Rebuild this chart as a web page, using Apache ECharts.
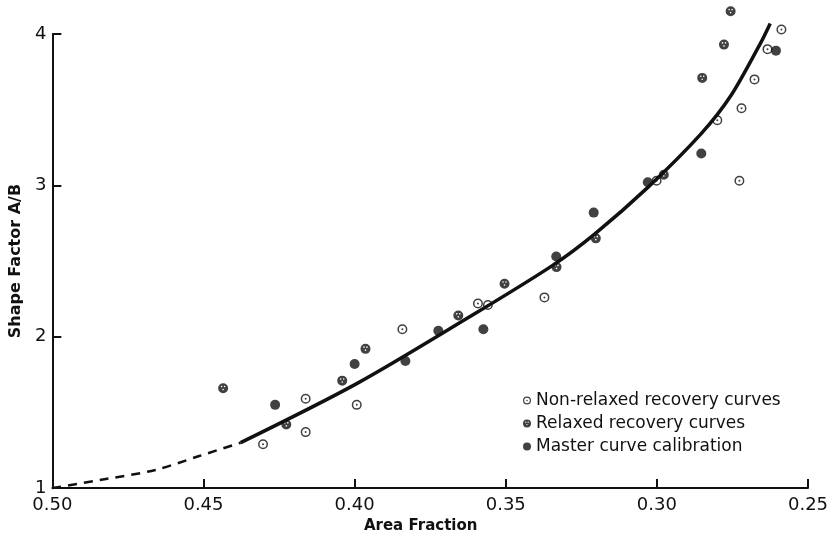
<!DOCTYPE html>
<html>
<head>
<meta charset="utf-8">
<script src="https://cdn.jsdelivr.net/npm/echarts@6/dist/echarts.min.js"></script>
<style>
  html, body { margin: 0; padding: 0; background: #fff; }
  #chart { width: 837px; height: 539px; }
</style>
</head>
<body>
<div id="chart"></div>
<script>
  // data: [area fraction, shape factor A/B]
  const nonRelaxed = [
    [0.4303, 1.29], [0.4162, 1.59], [0.4162, 1.37], [0.3993, 1.55],
    [0.3842, 2.05], [0.3592, 2.22], [0.3559, 2.21], [0.3372, 2.26],
    [0.3001, 3.03], [0.2800, 3.43], [0.2720, 3.51], [0.2677, 3.70],
    [0.2634, 3.90], [0.2588, 4.03], [0.2727, 3.03]
  ];
  const relaxed = [
    [0.4435, 1.66], [0.4226, 1.42], [0.4041, 1.71], [0.3964, 1.92],
    [0.3657, 2.14], [0.3504, 2.35], [0.3332, 2.46], [0.3202, 2.65],
    [0.2977, 3.07], [0.2850, 3.71], [0.2778, 3.93], [0.2756, 4.15]
  ];
  const master = [
    [0.4263, 1.55], [0.4000, 1.82], [0.3832, 1.84], [0.3723, 2.04],
    [0.3574, 2.05], [0.3333, 2.53], [0.3209, 2.82], [0.3030, 3.02],
    [0.2853, 3.21], [0.2606, 3.89]
  ];
  // fitted master curve, dashed extrapolation then solid part
  const curveDashed = [
    [0.500, 1.00], [0.4823, 1.06], [0.4659, 1.12], [0.4517, 1.21], [0.4377, 1.30]
  ];
  const curveSolid = [
    [0.4377, 1.30], [0.3993, 1.69], [0.3625, 2.125], [0.3346, 2.47],
    [0.3205, 2.68], [0.3028, 2.99], [0.2854, 3.34], [0.2756, 3.59],
    [0.2657, 3.94], [0.2625, 4.07]
  ];
  const xTicks = [0.25, 0.30, 0.35, 0.40, 0.45, 0.50];
  const yTicks = [1, 2, 3, 4];

  // ring with centre dot / dark disc with white specks
  const ringDot = 'path://M10,0A10,10 0 1,1 10,20A10,10 0 1,1 10,0Z' +
    'M10,3A7,7 0 1,0 10,17A7,7 0 1,0 10,3Z' +
    'M10,8A2,2 0 1,1 10,12A2,2 0 1,1 10,8Z';
  const speckled = 'path://M10,0A10,10 0 1,1 10,20A10,10 0 1,1 10,0Z' +
    'M7,5A1.6,1.6 0 1,0 7,8.2A1.6,1.6 0 1,0 7,5Z' +
    'M13,5A1.6,1.6 0 1,0 13,8.2A1.6,1.6 0 1,0 13,5Z' +
    'M10,11A1.6,1.6 0 1,0 10,14.2A1.6,1.6 0 1,0 10,11Z';

  const ink = '#111';
  const font = 'DejaVu Sans';

  const chart = echarts.init(document.getElementById('chart'));
  chart.setOption({
    backgroundColor: '#fff',
    animation: false,
    grid: { left: 46, right: 29, top: 34, bottom: 49, containLabel: false },
    legend: {
      data: ['Non-relaxed recovery curves', 'Relaxed recovery curves', 'Master curve calibration'],
      orient: 'vertical',
      left: 518,
      top: 384,
      itemWidth: 8,
      itemHeight: 8,
      itemGap: 0,
      textStyle: { fontFamily: font, fontSize: 17, color: ink, lineHeight: 23 }
    },
    xAxis: {
      type: 'value',
      inverse: true,
      min: xTicks[0],
      max: xTicks[xTicks.length - 1],
      interval: 0.05,
      name: 'Area Fraction',
      nameLocation: 'middle',
      nameGap: 30,
      nameTextStyle: { fontFamily: font, fontSize: 15, fontWeight: 'bold', color: ink, padding: [0, 19, 0, 0] },
      axisLine: { lineStyle: { color: ink, width: 2 } },
      axisTick: { inside: true, length: 9, lineStyle: { color: ink, width: 2 } },
      axisLabel: { fontFamily: font, fontSize: 18, color: ink, margin: 8, formatter: v => v.toFixed(2) },
      splitLine: { show: false }
    },
    yAxis: {
      type: 'value',
      min: yTicks[0],
      max: yTicks[yTicks.length - 1],
      interval: 1,
      name: 'Shape Factor A/B',
      nameLocation: 'middle',
      nameGap: 23,
      nameTextStyle: { fontFamily: font, fontSize: 16, fontWeight: 'bold', color: ink },
      axisLine: { lineStyle: { color: ink, width: 2 } },
      axisTick: { inside: true, length: 9, lineStyle: { color: ink, width: 2 } },
      axisLabel: { fontFamily: font, fontSize: 18, color: ink, margin: 6 },
      splitLine: { show: false }
    },
    series: [
      {
        name: 'curve dashed', type: 'line', data: curveDashed, smooth: 0.3, clip: false,
        showSymbol: false, lineStyle: { color: ink, width: 2.5, type: [9, 7] }, z: 1
      },
      {
        name: 'curve solid', type: 'line', data: curveSolid, smooth: 0.3, clip: false,
        showSymbol: false, lineStyle: { color: ink, width: 3.5 }, z: 1
      },
      {
        name: 'Non-relaxed recovery curves', type: 'scatter', data: nonRelaxed, clip: false,
        symbol: ringDot, symbolSize: 10, itemStyle: { color: ink }, z: 3
      },
      {
        name: 'Relaxed recovery curves', type: 'scatter', data: relaxed, clip: false,
        symbol: speckled, symbolSize: 10, itemStyle: { color: ink }, z: 3
      },
      {
        name: 'Master curve calibration', type: 'scatter', data: master, clip: false,
        symbol: 'circle', symbolSize: 10, itemStyle: { color: ink }, z: 3
      }
    ]
  });
</script>
</body>
</html>
